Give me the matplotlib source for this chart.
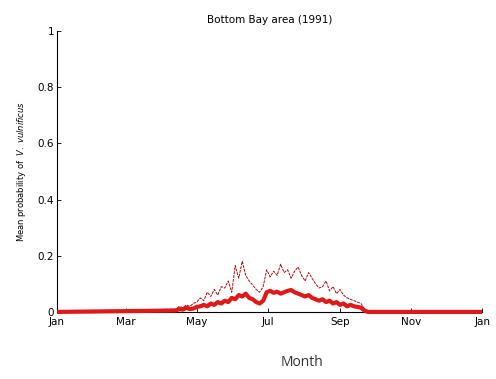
import matplotlib.pyplot as plt
import numpy as np

# day of year (1991) for month ticks
tick_days = [0, 59, 120, 181, 243, 304, 365]
tick_names = ['Jan', 'Mar', 'May', 'Jul', 'Sep', 'Nov', 'Jan']

# sampled season (every 3 days, mid-April to late September)
season_days = np.arange(102, 265, 3)
mean_prob = [0.005, 0.01, 0.008, 0.015, 0.01, 0.012, 0.018,
             0.02, 0.025, 0.02, 0.03, 0.025, 0.035, 0.03,
             0.04, 0.035, 0.05, 0.045, 0.06, 0.055, 0.065,
             0.05, 0.045, 0.035, 0.03, 0.04,
             0.07, 0.075, 0.068, 0.072, 0.065, 0.07, 0.075, 0.078, 0.07, 0.065, 0.06,
             0.055, 0.06, 0.05, 0.045, 0.04, 0.045,
             0.035, 0.04, 0.03, 0.035, 0.025, 0.03,
             0.02, 0.025, 0.02, 0.018, 0.015, 0.005]
upper_prob = [0.01, 0.02, 0.015, 0.025, 0.02, 0.03, 0.035,
              0.05, 0.04, 0.07, 0.055, 0.08, 0.06, 0.09,
              0.085, 0.11, 0.07, 0.165, 0.12, 0.18, 0.13,
              0.11, 0.095, 0.08, 0.07, 0.09,
              0.15, 0.125, 0.145, 0.13, 0.17, 0.14, 0.15, 0.12, 0.145, 0.16, 0.13,
              0.11, 0.14, 0.12, 0.10, 0.085, 0.09,
              0.11, 0.075, 0.09, 0.065, 0.08, 0.06,
              0.05, 0.045, 0.04, 0.035, 0.03, 0.01]


def draw_pic():
    fig = plt.figure(figsize=(4.96, 3.79), dpi=100)
    ax = fig.add_axes([0.115, 0.177, 0.857, 0.741])

    # zero outside the season, so the mean runs the whole year
    days = np.concatenate([[0], season_days, [season_days[-1] + 3, 365]])
    mean = np.concatenate([[0], mean_prob, [0, 0]])
    upper = np.concatenate([[0], upper_prob, [0, 0]])

    ax.plot(days, upper, color='#a01010', lw=0.7, ls='--', dashes=(3, 1))
    ax.plot(days, mean, color='#e01818', lw=3.0, solid_capstyle='butt',
            clip_on=False, zorder=5)

    ax.set_xlim(0, 365)
    ax.set_ylim(0, 1)
    ax.set_xticks(tick_days)
    ax.set_xticklabels(tick_names)
    ax.set_yticks([0, 0.2, 0.4, 0.6, 0.8, 1])
    ax.set_yticklabels(['0', '0.2', '0.4', '0.6', '0.8', '1'])
    ax.tick_params(direction='in', length=3, width=0.6, labelsize=7.5, pad=2)
    ax.tick_params(axis='x', pad=4)
    for s in ['top', 'right']:
        ax.spines[s].set_visible(False)
    for s in ['left', 'bottom']:
        ax.spines[s].set_linewidth(0.8)

    ax.set_title('Bottom Bay area (1991)', fontsize=7.5, pad=6)
    ax.set_ylabel(r'Mean probability of  $\mathit{V.\ vulnificus}$', fontsize=6)
    ax.yaxis.set_label_coords(-0.068, 0.5)
    fig.text(302 / 496, 1 - 362 / 379, 'Month', fontsize=10, color='#333333',
             family='Open Sans', ha='center', va='center')

    plt.savefig('out.png', dpi=100)


if __name__ == "__main__":
    draw_pic()
